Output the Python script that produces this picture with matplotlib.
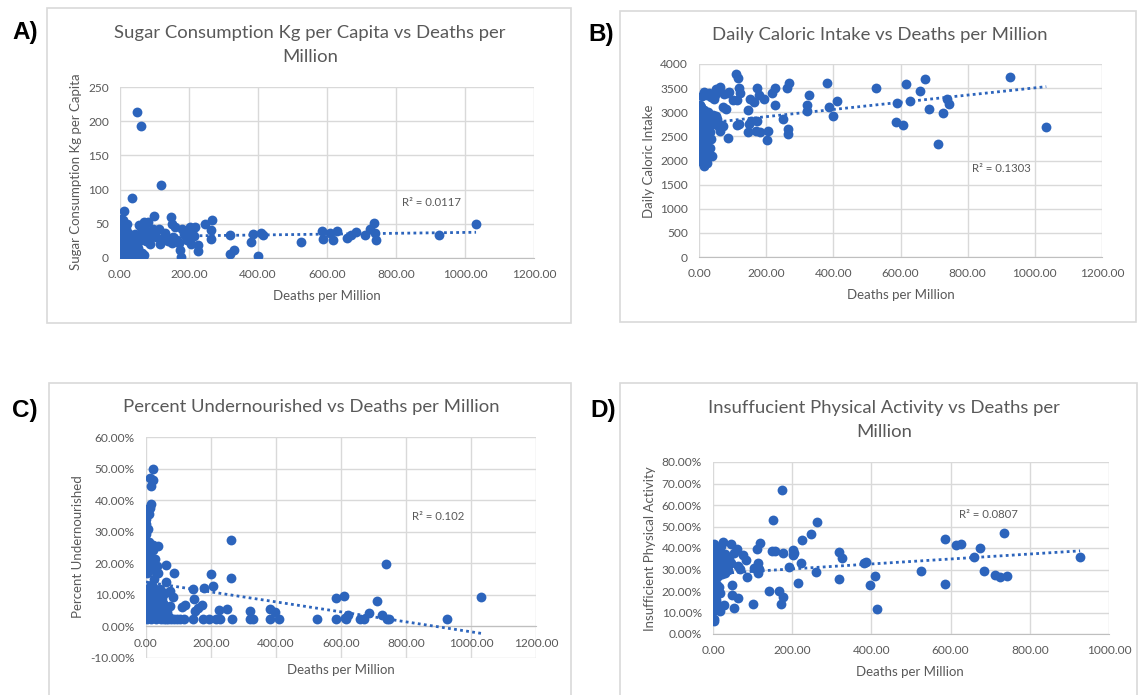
import matplotlib.pyplot as plt
import numpy as np
from matplotlib.patches import Rectangle
from matplotlib.ticker import FuncFormatter

W, H = 1138, 695
BLUE = '#2c64bc'
GREY = '#595959'
GRID = '#d9d9d9'

plt.rcParams['font.family'] = ['Lato', 'DejaVu Sans']

# ---- A) sugar consumption (kg per capita) vs deaths per million
sugar_deaths = [48, 62, 118, 35, 11, 99, 148, 268, 247, 216,
                203, 179, 319, 386, 410, 414, 381, 399, 319, 329,
                263, 263, 226, 226, 178, 174, 526, 585, 588, 609,
                617, 628, 659, 671, 683, 710, 725, 735, 738, 743,
                925, 1032, 193, 210, 152, 114, 117, 127, 70, 82,
                86, 86, 69, 36, 63, 105, 122, 130, 140, 150,
                155, 158, 165, 170, 185, 190, 200, 205, 215, 95,
                0.5, 1, 1, 1.5, 2, 2, 3, 3, 4, 4,
                5, 5, 6, 6, 7, 7, 8, 8, 9, 10,
                10, 11, 12, 12, 13, 14, 15, 15, 16, 17,
                18, 19, 20, 21, 22, 23, 24, 25, 26, 27,
                28, 29, 30, 32, 33, 34, 36, 38, 40, 42,
                44, 45, 47, 50, 52, 54, 56, 58, 60, 65,
                75, 78, 90, 4, 10, 20, 45, 30, 55, 16]
sugar_kg = [214, 193, 106, 87, 68, 62, 60, 55, 50, 45,
            45, 42, 34, 35, 37, 34, 23, 3, 6, 11,
            28, 41, 19, 10, 1.5, 12, 24, 40, 28, 36,
            27, 40, 29, 33, 38, 33, 42, 51, 37, 26,
            34, 49, 26, 39, 50, 42, 21, 31, 52, 53,
            37, 20, 5, 1, 8, 30, 28, 36, 25, 22,
            30, 45, 27, 22, 35, 30, 28, 20, 32, 42,
            5, 12, 22, 30, 40, 48, 2, 17, 35, 27,
            8, 32, 20, 33, 14, 36, 3, 25, 38, 10,
            30, 18, 30, 5, 26, 35, 12, 28, 22, 2,
            30, 15, 34, 8, 25, 37, 18, 4, 32, 12,
            30, 22, 28, 8, 32, 17, 30, 24, 32, 12,
            35, 20, 29, 28, 15, 33, 25, 31, 45, 35,
            25, 40, 30, 57, 55, 50, 2, 15, 48, 42]

# ---- B) daily caloric intake vs deaths per million
cal_deaths = [927, 1034, 712, 673, 616, 659, 628, 589, 587, 608,
              685, 728, 738, 744, 527, 382, 411, 387, 399, 329,
              321, 321, 268, 263, 227, 217, 227, 249, 264, 264,
              204, 201, 174, 178, 194, 165, 152, 147, 174, 155,
              149, 146, 171, 181, 109, 116, 118, 121, 113, 100,
              113, 120, 90, 86, 81, 70, 62, 52, 66, 63,
              52, 41, 36, 46, 38, 36, 10, 14, 16, 23,
              1, 2, 2, 3, 3, 4, 4, 5, 5, 6,
              6, 7, 8, 8, 9, 9, 10, 11, 12, 12,
              13, 14, 15, 15, 16, 17, 18, 19, 20, 21,
              22, 24, 25, 26, 28, 30, 32, 34, 27, 23,
              11, 6, 3, 38, 45, 55, 60, 70, 48, 58,
              75, 85, 30, 20, 25, 8, 4, 18, 33, 42]
calories = [3737, 2701, 2349, 3689, 3585, 3434, 3240, 3192, 2805, 2736,
            3074, 2978, 3275, 3171, 3496, 3606, 3233, 3102, 2929, 3358,
            3157, 3033, 3613, 3503, 3496, 3392, 3143, 2860, 2653, 2542,
            2618, 2425, 3503, 3364, 3275, 3206, 3275, 3054, 2826, 2826,
            2763, 2584, 2618, 2584, 3786, 3710, 3503, 3399, 3261, 3247,
            2729, 2763, 3413, 2466, 3067, 3109, 3523, 3482, 2743, 2604,
            2915, 2950, 3316, 3275, 2086, 2446, 3330, 3413, 1893, 1948,
            2200, 2500, 2750, 2400, 2950, 2100, 2650, 3100, 2300, 2550,
            2850, 2200, 2700, 2450, 3000, 2100, 2600, 2350, 2800, 2050,
            2500, 2900, 2250, 2650, 3050, 2400, 2150, 2700, 2550, 2950,
            2300, 2850, 2650, 2200, 2500, 2750, 2900, 2600, 3000, 2050,
            1950, 2000, 3150, 2800, 2750, 2850, 2700, 2720, 3350, 3450,
            3380, 3400, 3400, 3380, 3350, 2350, 2600, 2450, 2250, 2800]

# ---- C) percent undernourished vs deaths per million
under_deaths = [21, 12, 21, 15, 16, 12, 3, 8, 1, 0,
                5.5, 1, 10, 21, 37, 3, 23, 29, 8, 1,
                60, 0, 12, 34, 85, 3, 262, 262, 201, 205,
                179, 145, 737, 1032, 608, 584, 710, 685, 727, 383,
                397, 319, 250, 224, 63, 21, 1, 0, 73, 59,
                84, 27, 147, 119, 111, 73, 51, 172, 160, 150,
                623, 613, 95, 117, 144, 174, 194, 216, 227, 265,
                320, 329, 382, 408, 526, 586, 615, 659, 672, 741,
                747, 925, 2, 5, 8, 10, 12, 15, 18, 20,
                22, 25, 28, 30, 33, 36, 40, 42, 45, 48,
                52, 55, 60, 65, 70, 12, 18, 6, 3, 14,
                40, 50, 4, 9, 16, 24, 32, 38, 46, 56,
                62, 68, 78, 85, 105, 1, 7, 26, 35, 44]
under_pct = [49.8, 47.0, 46.3, 44.4, 38.7, 37.6, 37.1, 35.5, 33.9, 32.6,
             31.0, 29.2, 26.8, 25.7, 25.5, 24.7, 24.1, 21.2, 22.0, 20.5,
             19.3, 18.9, 17.8, 17.0, 16.8, 16.8, 27.4, 15.4, 16.7, 12.7,
             12.2, 11.8, 19.8, 9.3, 9.7, 8.9, 8.2, 4.4, 3.6, 5.4,
             4.6, 4.9, 5.5, 5.2, 14.1, 12.5, 11.9, 10.4, 11.3, 10.7,
             9.4, 9.2, 8.6, 6.7, 6.0, 6.5, 7.4, 6.7, 5.7, 5.0,
             3.6, 2.7, 2.5, 2.5, 2.5, 2.5, 2.5, 2.5, 2.5, 2.5,
             2.5, 2.5, 2.5, 2.5, 2.5, 2.5, 2.5, 2.5, 2.5, 2.5,
             2.5, 2.5, 4.5, 3, 6, 8, 5, 3.5, 7, 4,
             9, 5.5, 3, 6.5, 4, 8, 5, 3, 6, 4,
             3, 5, 3.5, 4.5, 3, 11, 10, 12, 9, 13,
             10.5, 9, 2.5, 23, 2.5, 19, 2.5, 17, 2.5, 2.5,
             2.5, 2.5, 2.5, 2.5, 2.5, 18, 21, 15, 19, 12]

# ---- D) insufficient physical activity vs deaths per million
act_deaths = [174, 151, 262, 247, 224, 736, 585, 614, 627, 673,
              659, 685, 711, 726, 743, 927, 525, 587, 413, 409,
              397, 381, 386, 327, 317, 319, 261, 223, 215, 192,
              203, 205, 201, 178, 150, 157, 167, 177, 172, 142,
              118, 112, 114, 116, 114, 104, 100, 86, 84, 77,
              52, 49, 63, 47, 54, 60, 46, 25, 31, 63,
              68, 27, 17, 2, 2, 0, 2, 4, 3, 5,
              2, 6, 3, 1, 8, 4, 7, 2, 5, 9,
              3, 6, 1, 4, 8, 2, 10, 12, 14, 16,
              18, 20, 22, 25, 28, 30, 35, 40, 12, 15,
              18, 10, 20, 14, 6, 22, 38, 45, 3, 7]
act_pct = [67.1, 53.1, 52.2, 46.3, 43.5, 47.1, 44.1, 41.5, 41.8, 40.2,
           36.0, 29.2, 27.3, 26.7, 27.0, 35.9, 29.5, 23.3, 11.7, 27.2,
           22.7, 32.9, 33.7, 35.4, 38.2, 25.6, 28.7, 33.1, 23.9, 31.1,
           39.1, 37.6, 36.8, 37.6, 38.7, 38.7, 19.9, 17.2, 14.1, 19.9,
           42.3, 39.6, 32.9, 30.1, 28.3, 30.6, 14.1, 26.3, 34.5, 36.8,
           12.0, 18.2, 16.8, 22.7, 37.9, 39.6, 41.8, 43.0, 28.3, 31.4,
           30.3, 13.4, 10.9, 6.2, 7.0, 10.9, 42, 40, 38, 36,
           34, 33, 31, 29, 30, 28, 26, 25, 24, 23,
           21, 20, 18, 17, 16, 15, 14, 32, 35, 38,
           30, 33, 36, 31, 34, 37, 32, 35, 27, 22,
           19, 40, 41, 12, 13, 28, 30, 33, 22, 18]


def frac(x, y):
    return x / W, 1 - y / H


def box(fig, x0, y0, x1, y1):
    fig.patches.append(Rectangle((x0 / W, 1 - y1 / H), (x1 - x0) / W, (y1 - y0) / H,
                                 transform=fig.transFigure, fill=False,
                                 edgecolor=GRID, linewidth=1.2))


def make_ax(fig, left, top, right, bottom):
    return fig.add_axes([left / W, 1 - bottom / H, (right - left) / W, (bottom - top) / H])


def style(ax, xticks, yticks, yfmt):
    ax.set_xlim(xticks[0], xticks[-1])
    ax.set_ylim(yticks[0], yticks[-1])
    ax.set_xticks(xticks)
    ax.set_yticks(yticks)
    ax.xaxis.set_major_formatter(FuncFormatter(lambda v, p: f'{v:.2f}'))
    ax.yaxis.set_major_formatter(FuncFormatter(yfmt))
    ax.grid(True, color=GRID, linewidth=1)
    ax.set_axisbelow(True)
    for s in ['top', 'right', 'left']:
        ax.spines[s].set_visible(False)
    ax.spines['bottom'].set_color('#bfbfbf')
    ax.tick_params(length=0, labelsize=8.6, labelcolor=GREY, pad=8)


def scatter_trend(ax, xs, ys):
    xs = np.array(xs, float)
    ys = np.array(ys, float)
    ax.scatter(xs, ys, s=50, color=BLUE, zorder=3, linewidths=0)
    m, b = np.polyfit(xs, ys, 1)
    xx = np.array([xs.min(), xs.max()])
    ax.plot(xx, m * xx + b, color=BLUE, linewidth=2, linestyle=(0, (1, 1.2)), zorder=4)


fig = plt.figure(figsize=(W / 100, H / 100), dpi=100)

box(fig, 47, 8, 571, 323)
box(fig, 620, 11, 1136, 322)
box(fig, 49, 383, 571, 700)
box(fig, 620, 383, 1137, 700)

ttl = dict(ha='center', va='center', color=GREY, fontsize=13.3)
lab = dict(ha='center', va='center', color=GREY, fontsize=9.5)
big = dict(ha='center', va='center', fontsize=17.5, fontweight='bold',
           family=['Liberation Sans', 'DejaVu Sans'], color='black')
r2 = dict(ha='center', va='center', color=GREY, fontsize=8.2)

# A
ax = make_ax(fig, 120, 87, 534, 258)
scatter_trend(ax, sugar_deaths, sugar_kg)
style(ax, np.arange(0, 1201, 200), np.arange(0, 251, 50), lambda v, p: f'{v:.0f}')
fig.text(*frac(25, 33), 'A)', **big)
fig.text(*frac(310, 33), 'Sugar Consumption Kg per Capita vs Deaths per', **ttl)
fig.text(*frac(310, 57), 'Million', **ttl)
fig.text(*frac(327, 296), 'Deaths per Million', **lab)
fig.text(*frac(76, 172), 'Sugar Consumption Kg per Capita', rotation=90, **lab)
fig.text(*frac(431, 202), 'R² = 0.0117', **r2)

# B
ax = make_ax(fig, 699, 64, 1102, 257)
scatter_trend(ax, cal_deaths, calories)
style(ax, np.arange(0, 1201, 200), np.arange(0, 4001, 500), lambda v, p: f'{v:.0f}')
fig.text(*frac(601, 35), 'B)', **big)
fig.text(*frac(880, 35), 'Daily Caloric Intake vs Deaths per Million', **ttl)
fig.text(*frac(901, 295), 'Deaths per Million', **lab)
fig.text(*frac(649, 161), 'Daily Caloric Intake', rotation=90, **lab)
fig.text(*frac(1001, 169), 'R² = 0.1303', **r2)

# C
ax = make_ax(fig, 146, 437, 536, 658)
scatter_trend(ax, under_deaths, under_pct)
style(ax, np.arange(0, 1201, 200), np.arange(-10, 61, 10), lambda v, p: f'{v:.2f}%')
ax.spines['bottom'].set_position(('data', 0))
fig.text(*frac(25, 410), 'C)', **big)
fig.text(*frac(311, 407), 'Percent Undernourished vs Deaths per Million', **ttl)
fig.text(*frac(341, 670), 'Deaths per Million', **lab)
fig.text(*frac(78, 547), 'Percent Undernourished', rotation=90, **lab)
fig.text(*frac(438, 517), 'R² = 0.102', **r2)

# D
ax = make_ax(fig, 713, 462, 1109, 634)
scatter_trend(ax, act_deaths, act_pct)
style(ax, np.arange(0, 1001, 200), np.arange(0, 81, 10), lambda v, p: f'{v:.2f}%')
fig.text(*frac(603, 411), 'D)', **big)
fig.text(*frac(884, 408), 'Insuffucient Physical Activity vs Deaths per', **ttl)
fig.text(*frac(884, 432), 'Million', **ttl)
fig.text(*frac(910, 672), 'Deaths per Million', **lab)
fig.text(*frac(650, 549), 'Insufficient Physical Activity', rotation=90, **lab)
fig.text(*frac(988, 515), 'R² = 0.0807', **r2)

fig.savefig('out.png', dpi=100)
